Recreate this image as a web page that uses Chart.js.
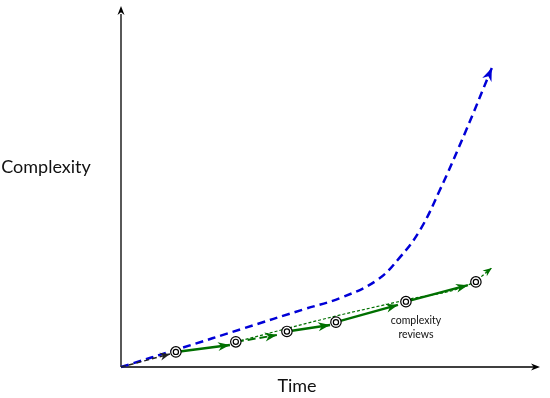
<!DOCTYPE html>
<html>
<head>
<meta charset="utf-8">
<script src="https://cdn.jsdelivr.net/npm/chart.js@4/dist/chart.umd.min.js"></script>
<style>
  html, body { margin: 0; padding: 0; background: #fff; }
  #wrap { width: 550px; height: 398px; }
</style>
</head>
<body>
<div id="wrap"><canvas id="chart"></canvas></div>
<script>
'use strict';

// Axes run 0..100 in both directions (arbitrary units)
const axisTitles = ['Time', 'Complexity'];
const noteLines = ['complexity', 'reviews'];

// Blue curve: complexity without reviews
const growthX = [0, 14.5, 29.1, 43.7, 52.3, 61.1, 66.6, 71.4, 76.1, 82.1, 88.5];
const growthY = [0, 5.3, 10.7, 16.1, 19.2, 24.2, 30.6, 38.2, 49.3, 65.2, 83.3];

// Review points (double circles)
const reviewX = [13.1, 27.4, 39.6, 51.3, 68.0, 84.7];
const reviewY = [4.2, 7.0, 9.9, 12.5, 18.2, 23.7];

// Arrow tips leading into each review point
const tipX = [11.7, 26.0, 37.2, 49.9, 66.1, 82.8];
const tipY = [3.6, 6.1, 8.9, 11.7, 17.3, 22.8];

// Dotted trend line
const trendX = [27.4, 51.3, 68.0, 83.8, 88.5];
const trendY = [7.0, 14.2, 18.7, 23.4, 27.6];

const GREEN = 'rgb(0,112,0)';
const BLUE = 'rgb(0,0,215)';

function pts(xs, ys) {
    return xs.map((x, i) => ({ x: x, y: ys[i] }));
}

// Segments between reviews
const segments = [];
for (let i = 0; i < tipX.length; i++) {
    const from = i === 0 ? { x: 0, y: 0 } : { x: reviewX[i - 1], y: reviewY[i - 1] };
    const seg = {
        data: [from, { x: tipX[i], y: tipY[i] }],
        borderColor: GREEN,
        borderWidth: 2.5,
        borderDash: [],
        pointRadius: 0,
        arrow: { len: 12, width: 9 }
    };
    if (i === 0) {
        seg.borderColor = '#222';
        seg.borderWidth = 1.5;
        seg.borderDash = [5, 3];
        seg.arrow = { len: 10, width: 8 };
    } else if (i === 2) {
        seg.borderDash = [8, 4];
        seg.borderWidth = 2;
    }
    segments.push(seg);
}

function drawArrow(ctx, x0, y0, x1, y1, len, width, color) {
    const a = Math.atan2(y1 - y0, x1 - x0);
    const c = Math.cos(a), s = Math.sin(a);
    ctx.save();
    ctx.fillStyle = color;
    ctx.beginPath();
    ctx.moveTo(x1, y1);
    ctx.lineTo(x1 - len * c - width / 2 * s, y1 - len * s + width / 2 * c);
    ctx.lineTo(x1 - 0.7 * len * c, y1 - 0.7 * len * s);
    ctx.lineTo(x1 - len * c + width / 2 * s, y1 - len * s - width / 2 * c);
    ctx.closePath();
    ctx.fill();
    ctx.restore();
}

const arrowPlugin = {
    id: 'arrows',
    afterDatasetDraw(chart, args) {
        const ds = chart.data.datasets[args.index];
        if (!ds.arrow) return;
        const el = args.meta.data;
        const n = el.length;
        // direction from the last two points
        const p0 = el[n - 2], p1 = el[n - 1];
        drawArrow(chart.ctx, p0.x, p0.y, p1.x, p1.y, ds.arrow.len, ds.arrow.width, ds.borderColor);
    },
    beforeDatasetsDraw(chart) {
        const ctx = chart.ctx;
        const xs = chart.scales.x, ys = chart.scales.y;
        const ox = xs.getPixelForValue(0), oy = ys.getPixelForValue(0);
        const ex = xs.getPixelForValue(100), ey = ys.getPixelForValue(100);
        ctx.save();
        ctx.strokeStyle = '#000';
        ctx.lineWidth = 1.3;
        ctx.beginPath();
        ctx.moveTo(ox, oy);
        ctx.lineTo(ex - 6, oy);
        ctx.moveTo(ox, oy);
        ctx.lineTo(ox, ey + 6);
        ctx.stroke();
        ctx.restore();
        drawArrow(ctx, ox, oy, ex, oy, 9, 7, '#000');
        drawArrow(ctx, ox, oy, ox, ey - 2, 9, 7, '#000');
    },
    afterDraw(chart) {
        const ctx = chart.ctx;
        const ys = chart.scales.y;
        ctx.save();
        ctx.fillStyle = '#111';
        ctx.textAlign = 'center';
        ctx.textBaseline = 'middle';
        ctx.font = '18px Lato';
        ctx.fillText(axisTitles[0], 297, ys.bottom + 19);
        ctx.fillText(axisTitles[1], 46, 167);
        ctx.font = '10.5px Lato';
        ctx.fillText(noteLines[0], 416, 321);
        ctx.fillText(noteLines[1], 416, 335);
        ctx.restore();
    }
};

const ctx = document.getElementById('chart');

new Chart(ctx, {
    type: 'line',
    data: {
        datasets: [
            {
                // inner ring
                data: pts(reviewX, reviewY),
                showLine: false,
                pointRadius: 2.6,
                pointBackgroundColor: '#fff',
                pointBorderColor: '#000',
                pointBorderWidth: 1.2
            },
            {
                // outer ring
                data: pts(reviewX, reviewY),
                showLine: false,
                pointRadius: 5.2,
                pointBackgroundColor: '#fff',
                pointBorderColor: '#000',
                pointBorderWidth: 1.2
            },
            ...segments,
            {
                data: pts(trendX, trendY),
                borderColor: GREEN,
                borderWidth: 1.2,
                borderDash: [3, 2],
                pointRadius: 0,
                cubicInterpolationMode: 'monotone',
                arrow: { len: 9, width: 7 }
            },
            {
                data: pts(growthX, growthY),
                borderColor: BLUE,
                borderWidth: 2.5,
                borderDash: [8, 5],
                pointRadius: 0,
                tension: 0.4,
                arrow: { len: 13, width: 10 }
            }
        ]
    },
    options: {
        responsive: true,
        maintainAspectRatio: false,
        animation: false,
        clip: false,
        layout: { padding: { left: 121, right: 10, top: 8, bottom: 31 } },
        plugins: {
            legend: { display: false },
            tooltip: { enabled: false }
        },
        scales: {
            x: { type: 'linear', min: 0, max: 100, display: false },
            y: { type: 'linear', min: 0, max: 100, display: false }
        }
    },
    plugins: [arrowPlugin]
});
</script>
</body>
</html>
